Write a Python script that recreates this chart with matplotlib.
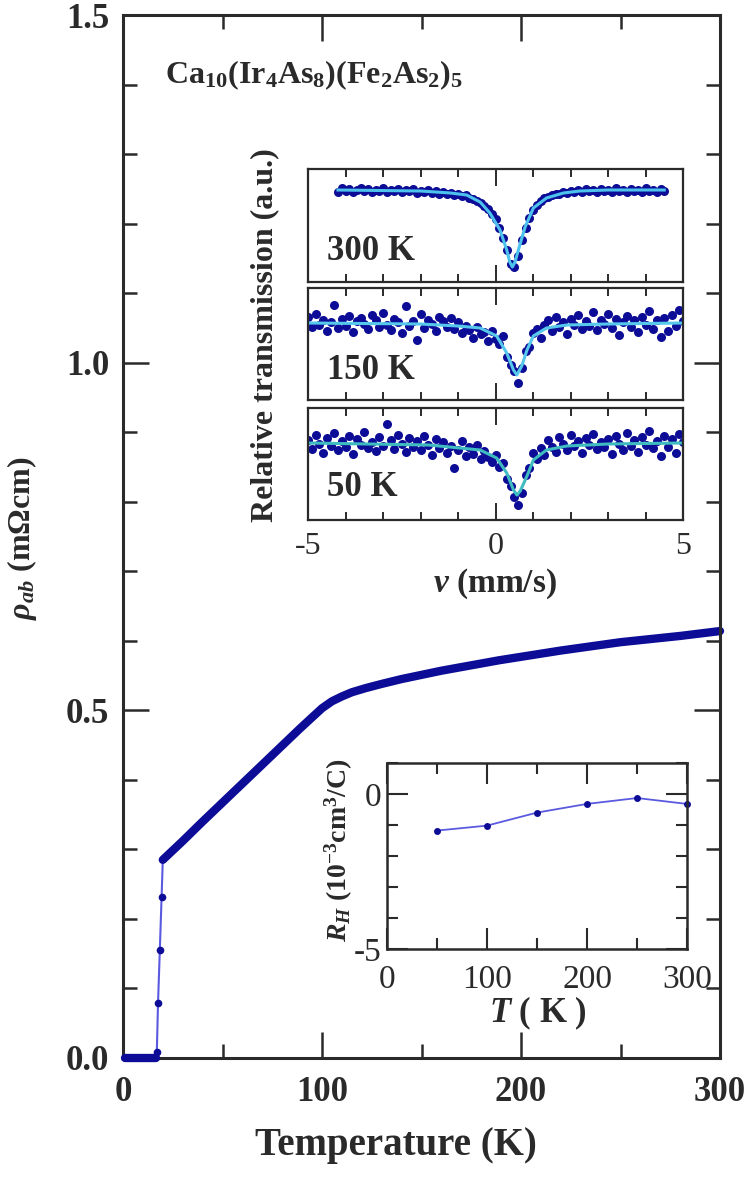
import matplotlib
matplotlib.use('Agg')
import matplotlib.pyplot as plt
from matplotlib.ticker import MultipleLocator, FixedLocator, NullLocator

plt.rcParams['font.family'] = ['Liberation Serif', 'DejaVu Serif']
plt.rcParams['mathtext.fontset'] = 'custom'
plt.rcParams['mathtext.rm'] = 'Liberation Serif:bold'
plt.rcParams['mathtext.it'] = 'Liberation Serif:italic:bold'
plt.rcParams['mathtext.bf'] = 'Liberation Serif:bold'
plt.rcParams['mathtext.default'] = 'regular'
plt.rcParams['axes.unicode_minus'] = False

INK = '#2a2a2a'
NAVY = '#0c0c96'
THIN = '#5a5ae0'

# ---- main panel: in-plane resistivity ----
T_ZERO = [1, 5, 10, 15, 16.5]
RHO_ZERO = [0.0, 0.0, 0.0, 0.0, 0.0]
T_JUMP = [16.5, 17.0, 17.6, 18.5, 19.4, 20.0]
RHO_JUMP = [0.0, 0.009, 0.079, 0.155, 0.232, 0.285]
T_NORMAL = [20, 30, 40, 55, 70, 89, 100, 105, 110, 115, 122, 130, 140, 160, 189,
            220, 250, 280, 300]
RHO_NORMAL = [0.285, 0.312, 0.340, 0.381, 0.422, 0.474, 0.503, 0.513, 0.520, 0.526,
              0.532, 0.538, 0.545, 0.557, 0.572, 0.586, 0.598, 0.607, 0.614]

# ---- inset: Hall coefficient ----
T_HALL = [50, 100, 150, 200, 250, 300]
R_HALL = [-1.18, -1.02, -0.60, -0.32, -0.13, -0.32]

# ---- inset: Moessbauer spectra (velocity channels, mm/s) ----
V_CH = [-5.0, -4.9, -4.8, -4.7, -4.6, -4.5, -4.4, -4.3, -4.2, -4.1,
        -4.0, -3.9, -3.8, -3.7, -3.6, -3.5, -3.4, -3.3, -3.2, -3.1,
        -3.0, -2.9, -2.8, -2.7, -2.6, -2.5, -2.4, -2.3, -2.2, -2.1,
        -2.0, -1.9, -1.8, -1.7, -1.6, -1.5, -1.4, -1.3, -1.2, -1.1,
        -1.0, -0.9, -0.8, -0.7, -0.6, -0.5, -0.4, -0.3, -0.2, -0.1,
        0.0, 0.1, 0.2, 0.3, 0.4, 0.5, 0.6, 0.7, 0.8, 0.9,
        1.0, 1.1, 1.2, 1.3, 1.4, 1.5, 1.6, 1.7, 1.8, 1.9,
        2.0, 2.1, 2.2, 2.3, 2.4, 2.5, 2.6, 2.7, 2.8, 2.9,
        3.0, 3.1, 3.2, 3.3, 3.4, 3.5, 3.6, 3.7, 3.8, 3.9,
        4.0, 4.1, 4.2, 4.3, 4.4, 4.5, 4.6, 4.7, 4.8, 4.9,
        5.0]

# 300 K spectrum covers -4.2 ... 4.5 mm/s (V_CH[8:96])
TR_300 = [0.998, 1.002, 0.999, 1.001, 0.998, 1.000, 1.002,
          0.999, 1.001, 0.998, 1.000, 0.999, 1.002, 0.998, 1.000, 0.999, 1.001,
          0.998, 1.000, 0.999, 1.001, 0.997, 0.999, 0.998, 1.000, 0.997, 0.999,
          0.996, 0.998, 0.996, 0.997, 0.995, 0.996, 0.994, 0.995, 0.992, 0.991,
          0.989, 0.987, 0.984, 0.981, 0.976, 0.971, 0.962, 0.952, 0.940, 0.926,
          0.923, 0.934, 0.950, 0.962, 0.972, 0.980, 0.985, 0.989, 0.992, 0.993,
          0.995, 0.996, 0.996, 0.998, 0.997, 0.999, 0.998, 1.000, 0.998, 1.001,
          0.999, 1.000, 0.998, 1.001, 0.999, 1.000, 0.998, 1.002, 0.999, 1.000,
          0.998, 1.001, 0.999, 1.000, 0.998, 1.002, 0.999, 1.000, 0.998, 1.001,
          0.999]
TR_150 = [1.006, 0.996, 1.009, 0.998, 1.003, 0.992, 1.001, 1.018, 0.995, 1.004,
          0.997, 1.007, 0.991, 1.002, 1.005, 0.999, 0.994, 1.008, 1.003, 0.996,
          1.010, 0.998, 0.993, 1.004, 1.001, 0.990, 1.017, 0.997, 1.002, 0.983,
          1.009, 0.995, 1.003, 0.999, 0.992, 1.006, 1.002, 0.996, 1.005, 0.994,
          1.001, 0.990, 0.997, 0.993, 0.985, 0.996, 0.989, 0.991, 0.982, 0.992,
          0.984, 0.979, 0.987, 0.966, 0.958, 0.952, 0.940, 0.955, 0.972, 0.976,
          0.990, 0.994, 0.985, 0.998, 1.003, 0.992, 1.006, 0.996, 1.001, 0.989,
          1.004, 0.998, 1.008, 0.994, 1.002, 0.997, 1.011, 0.993, 1.003, 0.999,
          1.009, 0.995, 1.004, 0.988, 1.001, 1.007, 0.996, 1.003, 0.991, 1.006,
          0.998, 1.012, 0.994, 1.003, 0.986, 1.005, 0.992, 1.008, 0.997, 1.013,
          1.002]
TR_50 = [1.003, 0.994, 1.008, 0.999, 0.990, 1.005, 0.997, 1.010, 0.993, 1.002,
         0.996, 1.007, 0.989, 1.004, 0.998, 1.011, 0.995, 1.001, 0.992, 1.006,
         0.997, 1.019, 1.003, 0.994, 1.008, 0.999, 0.991, 1.005, 0.996, 1.002,
         0.993, 1.007, 0.998, 0.988, 1.004, 0.995, 1.001, 0.990, 0.997, 0.975,
         0.993, 1.002, 0.987, 0.996, 0.989, 0.998, 0.984, 0.992, 0.986, 0.981,
         0.988, 0.976, 0.980, 0.964, 0.957, 0.946, 0.938, 0.950, 0.968, 0.975,
         0.990, 0.984, 0.995, 0.988, 1.003, 0.996, 0.991, 1.006, 0.999, 0.993,
         1.008, 0.997, 1.002, 0.990, 1.005, 0.998, 1.009, 0.994, 1.001, 0.996,
         1.004, 0.989, 1.007, 0.999, 0.993, 1.010, 0.997, 1.003, 0.991, 1.006,
         0.998, 1.012, 0.995, 1.002, 0.987, 1.007, 0.996, 1.004, 0.990, 1.009,
         1.001]

# fitted curves
FIT300_V = [-4.2, -2.0, -1.2, -0.77, -0.41, -0.15, 0.12, 0.30, 0.38, 0.45, 0.52, 0.61,
            0.79, 1.01, 1.36, 1.81, 2.25, 3.0, 4.5]
FIT300_Y = [1.000, 0.999, 0.997, 0.995, 0.988, 0.977, 0.960, 0.940, 0.928, 0.923, 0.928,
            0.940, 0.963, 0.982, 0.992, 0.997, 0.999, 1.000, 1.000]
FIT150_V = [-5.0, -2.0, -1.0, -0.41, 0.03, 0.30, 0.48, 0.57, 0.70, 0.84, 1.01, 1.36, 1.90, 3.0, 5.0]
FIT150_Y = [1.000, 0.999, 0.997, 0.995, 0.987, 0.970, 0.953, 0.948, 0.957, 0.973, 0.987,
            0.995, 0.998, 0.999, 1.000]
FIT50_V = [-5.0, -1.78, -0.41, 0.03, 0.30, 0.48, 0.57, 0.66, 0.84, 1.01, 1.36, 1.90, 3.0, 5.0]
FIT50_Y = [1.000, 0.998, 0.993, 0.985, 0.970, 0.953, 0.948, 0.952, 0.967, 0.983, 0.993,
           0.997, 0.999, 1.000]

W, H = 750, 1177
fig = plt.figure(figsize=(W / 100, H / 100), dpi=100)


def box(x0, y0, x1, y1):
    return [x0 / W, 1 - y1 / H, (x1 - x0) / W, (y1 - y0) / H]


def style_axes(ax, lw, major_len, minor_len, width):
    for sp in ax.spines.values():
        sp.set_linewidth(lw)
        sp.set_color(INK)
    ax.tick_params(which='both', direction='in', top=True, right=True,
                   color=INK, width=width, labelcolor=INK)
    ax.tick_params(which='major', length=major_len)
    ax.tick_params(which='minor', length=minor_len)


# main axes
ax = fig.add_axes(box(123, 15, 720, 1058))
ax.plot(T_ZERO, RHO_ZERO, color=NAVY, lw=6, solid_capstyle='round', clip_on=False, zorder=5)
ax.plot(T_JUMP, RHO_JUMP, color=THIN, lw=1.5)
ax.plot(T_JUMP[1:-1], RHO_JUMP[1:-1], 'o', color=NAVY, ms=5.5, mec='none', clip_on=False)
ax.plot(T_NORMAL, RHO_NORMAL, color=NAVY, lw=6, solid_capstyle='round', clip_on=False)
ax.set_xlim(0, 300)
ax.set_ylim(0, 1.5)
ax.xaxis.set_major_locator(MultipleLocator(100))
ax.xaxis.set_minor_locator(MultipleLocator(50))
ax.yaxis.set_major_locator(MultipleLocator(0.5))
ax.yaxis.set_minor_locator(MultipleLocator(0.1))
ax.yaxis.set_major_formatter(plt.FuncFormatter(lambda v, p: f'{v:.1f}'))
style_axes(ax, 2.2, 19, 10, 1.8)
ax.tick_params(axis='x', pad=13, labelsize=25)
ax.tick_params(axis='y', pad=10, labelsize=25)
for t in ax.get_xticklabels() + ax.get_yticklabels():
    t.set_fontweight('bold')
fig.text(396 / W, 1 - 1145 / H, 'Temperature (K)', ha='center', va='center',
         fontsize=28, fontweight='bold', color=INK)
fig.text(22 / W, 1 - 538 / H, r'$\mathit{ρ}_{\mathit{ab}}$ (mΩcm)', rotation=90,
         ha='center', va='center', fontsize=23, fontweight='bold', color=INK)
ax.text((165 - 123) / (720 - 123), 1 - (75 - 15) / (1058 - 15),
        r'Ca$_{10}$(Ir$_4$As$_8$)(Fe$_2$As$_2$)$_5$', transform=ax.transAxes,
        ha='left', va='center', fontsize=23, fontweight='bold', color=INK)

# Moessbauer insets
panels = [
    ((169, 282), (0.908, 1.021), V_CH[8:96], TR_300, FIT300_V, FIT300_Y, '#4cc2ec', '300 K', 0.27),
    ((288, 400), (0.923, 1.035), V_CH, TR_150, FIT150_V, FIT150_Y, '#56c8ec', '150 K', 0.26),
    ((408, 520), (0.923, 1.035), V_CH, TR_50, FIT50_V, FIT50_Y, '#3fbcc0', '50 K', 0.29),
]
for i, (ys, ylim, v, tr, fv, fy, fcol, lab, ly) in enumerate(panels):
    m = fig.add_axes(box(308, ys[0], 683, ys[1]))
    m.plot(v, tr, 'o', color=NAVY, ms=6.5, mec='none')
    m.plot(fv, fy, color=fcol, lw=2.2)
    m.set_xlim(-5, 5)
    m.set_ylim(*ylim)
    m.xaxis.set_major_locator(FixedLocator([-5, 0, 5]))
    m.xaxis.set_minor_locator(MultipleLocator(1))
    m.yaxis.set_major_locator(NullLocator())
    style_axes(m, 1.6, 12, 6, 1.4)
    m.tick_params(axis='y', left=False, right=False)
    m.text(0.05, ly, lab, transform=m.transAxes, ha='left', va='center',
           fontsize=25, fontweight='bold', color=INK)
    if i < 2:
        m.tick_params(axis='x', labelbottom=False)
    else:
        m.tick_params(axis='x', pad=9, labelsize=23)
fig.text(495 / W, 1 - 584 / H, r'$\mathit{v}$ (mm/s)', ha='center', va='center',
         fontsize=24, fontweight='bold', color=INK)
fig.text(265 / W, 1 - 335 / H, 'Relative transmission (a.u.)', rotation=90,
         ha='center', va='center', fontsize=23, fontweight='bold', color=INK)

# Hall inset
h = fig.add_axes(box(387, 763, 687, 949))
h.plot(T_HALL, R_HALL, '-', color=THIN, lw=1.3, clip_on=False)
h.plot(T_HALL, R_HALL, 'o', color=NAVY, ms=5, mec='none', clip_on=False)
h.set_xlim(0, 300)
h.set_ylim(-5, 1)
h.xaxis.set_major_locator(MultipleLocator(100))
h.xaxis.set_minor_locator(MultipleLocator(50))
h.yaxis.set_major_locator(FixedLocator([-5, 0]))
h.yaxis.set_minor_locator(MultipleLocator(1))
style_axes(h, 1.8, 15, 8, 1.5)
h.tick_params(axis='x', pad=11, labelsize=24)
h.tick_params(axis='y', pad=4, labelsize=24)
fig.text(538 / W, 1 - 1013 / H, r'$\mathit{T}$ ( K )', ha='center', va='center',
         fontsize=25, fontweight='bold', color=INK)
fig.text(339 / W, 1 - 850 / H, r'$\mathit{R}_{\mathit{H}}$ (10$^{-3}$cm$^{3}$/C)',
         rotation=90, ha='center', va='center', fontsize=20, fontweight='bold', color=INK)

fig.savefig('out.png', dpi=100)
